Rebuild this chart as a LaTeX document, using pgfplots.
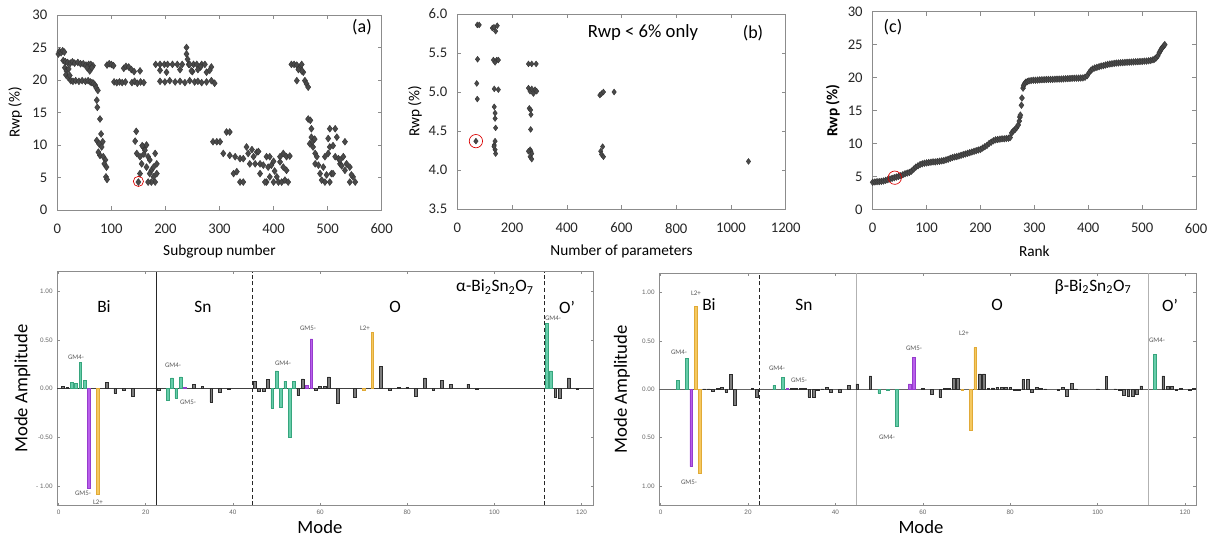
\documentclass[border=0pt]{standalone}
\usepackage{pgfplots}
\pgfplotsset{compat=1.18}
\usepackage{fontspec}
\setmainfont{Carlito}
\newfontfamily\arialf{Liberation Sans}
\definecolor{ptgray}{HTML}{4A4A4A}
\definecolor{framegray}{HTML}{8C8C8C}
\definecolor{tealfill}{RGB}{102,205,170}
\definecolor{tealedge}{RGB}{55,165,125}
\definecolor{purpfill}{RGB}{185,95,235}
\definecolor{purpedge}{RGB}{150,60,205}
\definecolor{yelfill}{RGB}{245,200,95}
\definecolor{yeledge}{RGB}{225,170,55}
\definecolor{barfill}{RGB}{125,125,125}
\definecolor{baredge}{RGB}{45,45,45}
\pgfplotsset{
  topstyle/.style={
    scale only axis,
    axis line style={framegray},
    tick style={framegray, thin},
    tick align=inside,
    major tick length=3pt,
    ticklabel style={font=\fontsize{11}{13}\selectfont, text=black!85},
    xticklabel style={yshift=-7pt},
    yticklabel style={xshift=-4pt},
    /pgf/number format/assume math mode=true,
    label style={font=\fontsize{11.5}{13}\selectfont},
    clip=false,
  },
  pts/.style={only marks, mark=diamond*, mark size=#1, mark options={fill=ptgray, draw=ptgray!70!black, line width=0.3pt}},
  redc/.style={only marks, mark=o, mark size=#1, mark options={draw=red!85!black, line width=0.5pt}},
  botstyle/.style={
    scale only axis,
    axis line style={framegray},
    tick style={framegray, thin},
    tick align=inside,
    major tick length=2pt,
    ticklabel style={font=\arialf\fontsize{4.8}{5.5}\selectfont, text=black!60},
    /pgf/number format/assume math mode=true,
    label style={font=\fontsize{14}{16}\selectfont},
    ymin=-1.2, ymax=1.2,
    xtick={0,20,40,60,80,100,120},
    ytick={-1,-0.5,0,0.5,1},
    clip=false,
  },
  gbar/.style={ybar, bar width=0.62, bar shift=0pt, fill=barfill, draw=baredge, line width=0.4pt},
  tbar/.style={ybar, bar width=0.62, bar shift=0pt, fill=tealfill, draw=tealedge, line width=0.4pt},
  pbar/.style={ybar, bar width=0.62, bar shift=0pt, fill=purpfill, draw=purpedge, line width=0.4pt},
  ybarc/.style={ybar, bar width=0.62, bar shift=0pt, fill=yelfill, draw=yeledge, line width=0.4pt},
}
\newcommand{\gm}{\fontsize{5.2}{6}\selectfont\color{black!65}}
\begin{document}
\begin{tikzpicture}[x=0.75pt,y=0.75pt]
\path[use as bounding box] (0,0) rectangle (1217,537);
% ---------------- panel (a)
\begin{axis}[topstyle, at={(42.975pt,245.25pt)}, anchor=south west, width=243.3pt, height=146.25pt,
  xmin=0, xmax=600, ymin=0, ymax=30, xtick={0,100,...,600}, ytick={0,5,...,30},
  xlabel={Subgroup number}, ylabel={Rwp (\%)},
  xlabel style={at={(axis description cs:0.5,-0.215)}, anchor=center},
  ylabel style={at={(axis description cs:-0.13,0.5)}, anchor=center}]
\addplot[pts=2.6pt] coordinates {
(2,24.0)(4,24.4)(7,24.2)(10,24.5)(13,24.3)(11,23.0)(15,22.8)(19,22.7)(24,22.6)(28,22.8)(32,22.6)(38,22.7)(43,22.5)(48,22.5)(53,22.3)(58,22.4)(62,22.4)(66,22.2)
(14,21.9)(17,21.4)(21,21.7)(55,21.9)(60,21.4)(64,21.9)(16,20.8)(20,20.4)(23,20.7)
(25,19.9)(29,19.8)(34,19.9)(40,19.8)(46,19.9)(52,19.8)(57,19.9)(61,19.7)(64,19.6)(67,19.5)(70,19.2)(72,18.8)(75,18.4)
(73,16.9)(74,15.8)(79,14.0)(73,10.7)(81,11.7)(77,10.2)(84,10.5)(79,8.4)(85,8.2)(89,7.7)(87,7.1)(91,6.6)(90,5.1)(92,4.7)(76,8.9)(82,9.7)
(92,22.3)(96,22.5)(100,22.4)(104,22.2)(105,19.7)(110,19.6)(115,19.7)(120,19.6)(126,19.7)
(123,21.8)(127,22.1)(132,22.0)(137,21.6)(142,21.3)(153,21.4)(138,19.6)(143,19.8)(148,19.5)(154,19.7)(160,19.6)
(146,12.1)(144,10.6)(150,4.3)(153,5.6)(147,8.7)(153,8.2)(159,9.7)(165,10.0)(162,9.2)(168,8.2)(156,7.1)(165,6.6)(171,7.7)(174,6.1)(178,5.1)(181,4.3)(174,4.3)(184,7.1)(184,5.6)(181,8.7)(171,5.6)(168,4.3)(178,6.6)(160,8.6)(157,9.9)
(182,22.4)(190,22.4)(198,22.4)(204,22.4)(213,22.4)(222,22.4)(231,22.4)(243,22.4)(252,22.4)(258,22.4)(267,22.4)(273,22.4)(265,22.0)(285,22.0)
(190,21.5)(202,21.2)(227,21.6)(250,21.3)(260,21.6)(276,21.2)(282,21.5)
(190,19.8)(199,19.7)(208,19.9)(218,19.7)(227,19.8)(236,19.6)(245,19.9)(254,19.7)(260,19.8)(267,19.6)(276,19.7)(285,19.9)(291,19.5)
(239,25.0)(239,24.0)(241,23.2)(245,22.4)(248,21.4)
(288,10.5)(295,10.5)(301,10.5)(313,12.0)(319,12.0)(307,8.7)(319,8.4)(329,8.2)(338,7.9)(344,7.9)
(326,5.6)(332,5.9)(338,4.3)(344,4.3)(350,9.7)(353,8.7)(356,7.1)(363,8.2)(369,8.9)(366,7.1)(375,7.1)(381,6.9)(375,5.6)
(387,8.2)(393,8.2)(390,6.6)(396,6.9)(400,4.3)(387,4.3)(406,5.1)(412,8.2)(418,8.7)(412,7.4)(418,6.6)(409,4.3)(415,4.3)
(424,6.1)(424,8.2)(421,4.6)(427,4.3)(393,5.1)(384,4.3)(360,9.3)(372,9.0)(400,7.5)(430,8.3)(402,6.0)
(433,22.4)(438,22.4)(443,22.3)(449,21.9)(452,22.4)(455,21.2)(452,21.4)(443,19.9)(458,19.9)(461,19.4)(464,18.9)(446,21.6)
(464,14.0)(468,13.8)(470,12.5)(467,10.2)(470,11.2)(473,9.7)(477,8.7)(480,8.2)(477,7.1)(483,6.9)(486,5.6)(489,4.6)(495,4.3)(492,6.6)(495,8.2)(501,8.7)(504,9.7)(501,11.0)(504,12.5)(514,12.5)(517,11.2)(510,9.9)(514,8.2)(520,7.9)(523,7.1)(529,8.2)(535,7.1)(532,6.1)(541,6.6)(507,5.6)(504,4.3)(510,5.6)(547,5.1)(551,4.3)(541,4.3)(544,5.4)(532,10.5)(523,7.7)(472,10.5)(476,10.9)(498,5.4)(526,6.8)
};
\addplot[redc=3.8pt] coordinates {(150,4.4)};
\end{axis}
\node[font=\fontsize{13.5}{15}\selectfont] at (362,510) {(a)};
% ---------------- panel (b)
\begin{axis}[topstyle, at={(342.975pt,246pt)}, anchor=south west, width=246.3pt, height=146.25pt,
  xmin=0, xmax=1200, ymin=3.5, ymax=6.0, xtick={0,200,...,1200}, ytick={3.5,4.0,...,6.0},
  xticklabel style={/pgf/number format/.cd, set thousands separator={}},
  yticklabel style={/pgf/number format/.cd, fixed, fixed zerofill, precision=1},
  xlabel={Number of parameters}, ylabel={Rwp (\%)},
  xlabel style={at={(axis description cs:0.5,-0.215)}, anchor=center},
  ylabel style={at={(axis description cs:-0.129,0.5)}, anchor=center}]
\addplot[pts=2.2pt] coordinates {
(73,5.86)(80,5.86)(74,5.42)(71,5.11)(73,4.91)(68,4.37)
(128,5.82)(134,5.83)(140,5.78)(146,5.85)(132,5.41)(144,5.41)(138,5.38)(150,5.41)(135,5.04)(150,5.03)
(135,4.81)(138,4.73)(138,4.66)(140,4.54)(138,4.37)(135,4.32)(138,4.26)(140,4.21)(134,4.30)
(260,5.36)(272,5.36)(288,5.36)(260,5.05)(266,5.01)(272,5.04)(284,5.03)(290,5.01)(278,4.98)
(263,4.79)(268,4.77)(269,4.71)(268,4.52)(266,4.26)(269,4.24)(272,4.21)(266,4.17)(272,4.14)(260,4.24)
(521,4.96)(527,4.98)(534,5.00)(524,4.24)(531,4.30)(527,4.20)(534,4.17)
(573,5.00)(1064,4.11)
};
\addplot[redc=5pt] coordinates {(68,4.37)};
\end{axis}
\node[font=\fontsize{14}{16}\selectfont] at (643,504) {Rwp < 6\% only};
\node[font=\fontsize{13.5}{15}\selectfont] at (753,504) {(b)};
% ---------------- panel (c)
\begin{axis}[topstyle, at={(654.525pt,245.775pt)}, anchor=south west, width=242.5pt, height=148.2pt,
  xmin=0, xmax=600, ymin=0, ymax=30, xtick={0,100,...,600}, ytick={0,5,...,30},
  xlabel={Rank}, ylabel={\bfseries Rwp (\%)},
  xlabel style={at={(axis description cs:0.5,-0.212)}, anchor=center},
  ylabel style={at={(axis description cs:-0.123,0.5)}, anchor=center}]
\addplot[pts=2.5pt] coordinates {
(0,4.1)(4,4.15)(8,4.2)(12,4.2)(16,4.25)(20,4.3)(24,4.4)(28,4.5)(32,4.6)(36,4.7)(40,4.8)(44,4.9)(48,5.0)(52,5.1)(56,5.25)(60,5.4)(64,5.5)(68,5.6)(72,5.8)(76,6.1)(80,6.4)(84,6.6)(88,6.8)(92,6.9)(96,7.0)(100,7.05)(104,7.1)(108,7.15)(112,7.2)(116,7.2)(120,7.25)(124,7.3)(128,7.35)(132,7.4)(136,7.5)(140,7.6)(144,7.75)(148,7.85)(152,7.95)(156,8.0)(160,8.1)(164,8.2)(168,8.3)(172,8.4)(176,8.5)(180,8.6)(184,8.7)(188,8.8)(192,8.9)(196,9.0)(200,9.1)(204,9.3)(208,9.5)(212,9.7)(216,10.0)(220,10.2)(224,10.4)(228,10.55)(232,10.6)(236,10.65)(240,10.7)(244,10.7)(248,10.75)(252,10.8)(255,10.9)(258,11.6)(261,11.9)(264,12.1)(267,12.4)(270,12.8)(272,13.4)(273,14.0)(274,14.3)(276,15.8)(277,16.9)(279,18.4)(280,18.8)(282,19.1)(284,19.3)(287,19.4)(290,19.5)(294,19.55)(298,19.6)(302,19.6)(306,19.62)(310,19.65)(314,19.67)(318,19.68)(322,19.7)(326,19.71)(330,19.72)(334,19.73)(338,19.75)(342,19.76)(346,19.77)(350,19.78)(354,19.8)(358,19.82)(362,19.84)(366,19.86)(370,19.88)(374,19.9)(378,19.91)(382,19.92)(386,19.94)(390,19.95)(394,20.05)(398,20.3)(402,20.8)(405,21.1)(408,21.3)(412,21.45)(416,21.55)(420,21.65)(424,21.75)(428,21.8)(432,21.9)(436,22.0)(440,22.05)(444,22.1)(448,22.15)(452,22.2)(456,22.22)(460,22.25)(464,22.27)(468,22.3)(472,22.32)(476,22.34)(480,22.36)(484,22.38)(488,22.4)(492,22.42)(496,22.44)(500,22.45)(504,22.5)(508,22.5)(512,22.55)(516,22.6)(520,22.7)(523,22.8)(526,23.0)(529,23.3)(532,23.8)(534,24.1)(536,24.4)(538,24.6)(540,24.8)(542,25.0)
};
\addplot[redc=5pt] coordinates {(41,4.8)};
\end{axis}
\node[font=\fontsize{13.5}{15}\selectfont] at (893,510) {(c)};
% ---------------- alpha panel
\begin{axis}[botstyle, at={(42.975pt,23.775pt)}, anchor=south west, width=402pt, height=175.2pt,
  xmin=-0.3, xmax=122.7,
  yticklabels={- 1.00,-0.50,0.00,0.50,1.00},
  xlabel={Mode}, ylabel={Mode Amplitude},
  xlabel style={at={(axis description cs:0.49,-0.093)}, anchor=center},
  ylabel style={at={(axis description cs:-0.0653,0.5)}, anchor=center}]
\draw[black!75, line width=0.5pt] (axis cs:-0.3,0) -- (axis cs:122.7,0);
\draw[black!85, line width=0.4pt] (axis cs:22.5,-1.2) -- (axis cs:22.5,1.2);
\draw[black!85, line width=0.4pt, densely dashed] (axis cs:44.5,-1.2) -- (axis cs:44.5,1.2);
\draw[black!85, line width=0.4pt, densely dashed] (axis cs:111.4,-1.2) -- (axis cs:111.4,1.2);
\addplot[gbar] coordinates {(1,0.02)(2,0.01)(11,0.06)(13,-0.05)(15,-0.02)(17,-0.075)(23,-0.02)(31,0.04)(33,0.02)(35,-0.14)(37,-0.04)(39,-0.01)(45,0.075)(46,-0.03)(47,-0.03)(48,0.095)(55,-0.07)(56,0.10)(59,-0.02)(60,0.025)(61,0.02)(62,0.12)(64,-0.155)(68,-0.085)(74,0.229)(76,-0.02)(78,0.01)(80,0.015)(82,-0.075)(84,0.11)(86,-0.015)(88,0.085)(90,0.04)(94,0.045)(96,-0.01)(114,-0.085)(115,-0.1)(117,0.11)(119,-0.01)};
\addplot[tbar] coordinates {(3,0.06)(4,0.05)(5,0.27)(6,0.085)(25,-0.12)(26,0.11)(27,-0.10)(28,0.12)(49,-0.20)(50,0.18)(51,-0.19)(52,0.075)(53,-0.50)(54,0.075)(112,0.67)(113,0.18)};
\addplot[pbar] coordinates {(7,-1.03)(29,0.01)(57,0.03)(58,0.51)};
\addplot[ybarc] coordinates {(9,-1.09)(70,-0.02)(72,0.574)};
\end{axis}
\begin{scope}[font=\fontsize{13}{15}\selectfont]
\node at (104,230) {Bi};
\node at (203,230) {Sn};
\node at (395,230) {O};
\node at (567,230) {O’};
\node at (495,250) {α-Bi\textsubscript{2}Sn\textsubscript{2}O\textsubscript{7}};
\end{scope}
\begin{scope}[font=\gm]
\node at (76,180) {GM4-};
\node at (83,44) {GM5-};
\node at (98,35) {L2+};
\node at (173,172) {GM4-};
\node at (188,135) {GM5-};
\node at (283,174) {GM4-};
\node at (308,209) {GM5-};
\node at (365,209) {L2+};
\node at (553,219) {GM4-};
\end{scope}
% ---------------- beta panel
\begin{axis}[botstyle, at={(494.475pt,23.775pt)}, anchor=south west, width=402.5pt, height=174pt,
  xmin=-0.3, xmax=122.5,
  yticklabels={1.00,0.50,0.00,0.50,1.00},
  xlabel={Mode}, ylabel={Mode Amplitude},
  xlabel style={at={(axis description cs:0.4876,-0.0935)}, anchor=center},
  ylabel style={at={(axis description cs:-0.0695,0.5)}, anchor=center}]
\draw[black!60, line width=0.5pt] (axis cs:-0.3,0) -- (axis cs:122.5,0);
\draw[black!85, line width=0.4pt, densely dashed] (axis cs:22.5,-1.2) -- (axis cs:22.5,1.2);
\draw[black!30, line width=0.6pt] (axis cs:44.7,-1.2) -- (axis cs:44.7,1.2);
\draw[black!30, line width=0.6pt] (axis cs:111.5,-1.2) -- (axis cs:111.5,1.2);
\addplot[gbar] coordinates {(10,0.005)(11,0.005)(12,-0.02)(13,0.01)(14,0.02)(15,-0.03)(16,0.155)(17,-0.16)(21,0.01)(22,-0.08)(30,0.01)(31,0.01)(32,0.01)(33,0.01)(34,-0.08)(35,-0.08)(36,-0.01)(37,0.005)(38,0.02)(39,-0.035)(41,-0.035)(43,0.04)(45,0.055)(48,0.14)(60,0.01)(62,-0.05)(64,-0.08)(65,0.01)(66,0.01)(67,0.11)(68,0.11)(73,0.16)(74,0.16)(75,0.01)(76,0.015)(77,0.02)(78,0.02)(79,0.02)(80,0.02)(81,-0.01)(82,-0.01)(83,0.10)(84,0.10)(85,-0.03)(86,0.02)(87,0.01)(88,0.005)(91,-0.01)(92,0.02)(93,-0.07)(94,0.065)(95,0.005)(100,0.005)(102,0.13)(104,0.005)(105,-0.01)(106,-0.065)(107,-0.07)(108,-0.07)(109,-0.05)(110,0.035)(115,0.14)(116,0.03)(117,0.03)(118,-0.01)(119,0.01)(121,-0.01)(122,0.01)};
\addplot[tbar] coordinates {(4,0.096)(6,0.32)(26,0.04)(28,0.12)(50,-0.04)(52,-0.01)(54,-0.38)(113,0.36)};
\addplot[pbar] coordinates {(7,-0.80)(29,0.01)(57,0.055)(58,0.33)};
\addplot[ybarc] coordinates {(8,0.86)(9,-0.87)(69,-0.01)(71,-0.42)(72,0.43)};
\end{axis}
\begin{scope}[font=\fontsize{13}{15}\selectfont]
\node at (709,232) {Bi};
\node at (804,232) {Sn};
\node at (997,232) {O};
\node at (1170,232) {O’};
\node at (1093,250) {β-Bi\textsubscript{2}Sn\textsubscript{2}O\textsubscript{7}};
\end{scope}
\begin{scope}[font=\gm]
\node at (696,244) {L2+};
\node at (679,185) {GM4-};
\node at (689,55) {GM5-};
\node at (777,169) {GM4-};
\node at (799,157) {GM5-};
\node at (887,100) {GM4-};
\node at (914,189) {GM5-};
\node at (964,204) {L2+};
\node at (1157,197) {GM4-};
\end{scope}
\end{tikzpicture}
\end{document}
